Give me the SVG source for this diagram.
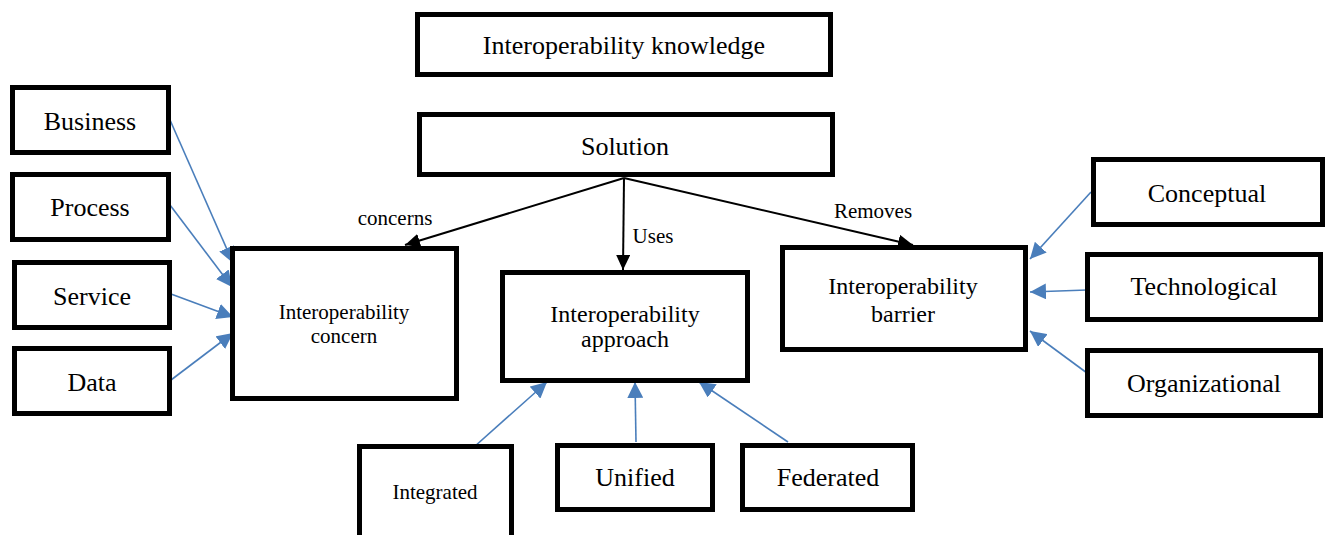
<svg xmlns="http://www.w3.org/2000/svg" width="1327" height="535" viewBox="0 0 1327 535">
<defs>
<style>
.box{fill:#fff;stroke:#000;stroke-width:5}
.t{font-family:"Liberation Serif","Times New Roman",serif;fill:#000;text-anchor:middle}
.big{font-size:26px}
.mid{font-size:24px}
.sm{font-size:21px}
.blk{stroke:#000;stroke-width:2;fill:none;marker-end:url(#ab)}
.blu{stroke:#4a7ebb;stroke-width:1.6;fill:none;marker-end:url(#au)}
</style>
<marker id="ab" markerUnits="userSpaceOnUse" markerWidth="16" markerHeight="14" refX="15" refY="7" orient="auto">
<path d="M0,0 L15,7 L0,14 z" fill="#000"/>
</marker>
<marker id="au" markerUnits="userSpaceOnUse" markerWidth="17" markerHeight="16" refX="16" refY="8" orient="auto">
<path d="M0,0 L16,8 L0,16 z" fill="#4a7ebb"/>
</marker>
</defs>
<rect width="1327" height="535" fill="#fff"/>
<g id="connectors">
<line class="blk" x1="624" y1="178" x2="405" y2="245"/>
<line class="blk" x1="624" y1="178" x2="623" y2="270"/>
<line class="blk" x1="624" y1="178" x2="913" y2="245"/>
<line class="blu" x1="170" y1="120" x2="233" y2="263"/>
<line class="blu" x1="170" y1="205" x2="232" y2="287"/>
<line class="blu" x1="171" y1="294" x2="233" y2="317"/>
<line class="blu" x1="171" y1="380" x2="233" y2="333"/>
<line class="blu" x1="474" y1="447" x2="547" y2="382"/>
<line class="blu" x1="636" y1="442" x2="635" y2="382"/>
<line class="blu" x1="788" y1="442" x2="699" y2="382"/>
<line class="blu" x1="1091" y1="192" x2="1030" y2="259"/>
<line class="blu" x1="1087" y1="290" x2="1030" y2="292"/>
<line class="blu" x1="1087" y1="373" x2="1030" y2="331"/>
<text class="t sm" x="395" y="225">concerns</text>
<text class="t sm" x="653" y="243">Uses</text>
<text class="t sm" x="873" y="218">Removes</text>
</g>
<g id="knowledge"><rect class="box" x="417.5" y="14.5" width="413" height="60"/><text class="t big" x="624" y="54">Interoperability knowledge</text></g>
<g id="solution"><rect class="box" x="419.5" y="114.5" width="413" height="60"/><text class="t big" x="625" y="155">Solution</text></g>
<g id="business"><rect class="box" x="12.5" y="87.5" width="156" height="65"/><text class="t big" x="90" y="130">Business</text></g>
<g id="process"><rect class="box" x="12.5" y="174.5" width="156" height="65"/><text class="t big" x="90" y="216">Process</text></g>
<g id="service"><rect class="box" x="14.5" y="262.5" width="155" height="65"/><text class="t big" x="92" y="305">Service</text></g>
<g id="data"><rect class="box" x="14.5" y="348.5" width="155" height="65"/><text class="t big" x="92" y="391">Data</text></g>
<g id="concern"><rect class="box" x="232.5" y="248.5" width="224" height="150"/><text class="t sm" x="344" y="319">Interoperability</text><text class="t sm" x="344" y="343">concern</text></g>
<g id="approach"><rect class="box" x="502.5" y="272.5" width="245" height="108"/><text class="t mid" x="625" y="322">Interoperability</text><text class="t mid" x="625" y="347">approach</text></g>
<g id="barrier"><rect class="box" x="782.5" y="247.5" width="243" height="102"/><text class="t mid" x="903" y="294">Interoperability</text><text class="t mid" x="903" y="322">barrier</text></g>
<g id="conceptual"><rect class="box" x="1093.5" y="159.5" width="229" height="65"/><text class="t big" x="1207" y="202">Conceptual</text></g>
<g id="technological"><rect class="box" x="1087.5" y="254.5" width="233" height="65"/><text class="t big" x="1204" y="295">Technological</text></g>
<g id="organizational"><rect class="box" x="1087.5" y="350.5" width="233" height="65"/><text class="t big" x="1204" y="392">Organizational</text></g>
<g id="integrated"><rect class="box" x="359.5" y="446.5" width="152" height="95"/><text class="t sm" x="435" y="499">Integrated</text></g>
<g id="unified"><rect class="box" x="557.5" y="445.5" width="155" height="64"/><text class="t big" x="635" y="486">Unified</text></g>
<g id="federated"><rect class="box" x="742.5" y="445.5" width="170" height="64"/><text class="t big" x="828" y="486">Federated</text></g>
</svg>
